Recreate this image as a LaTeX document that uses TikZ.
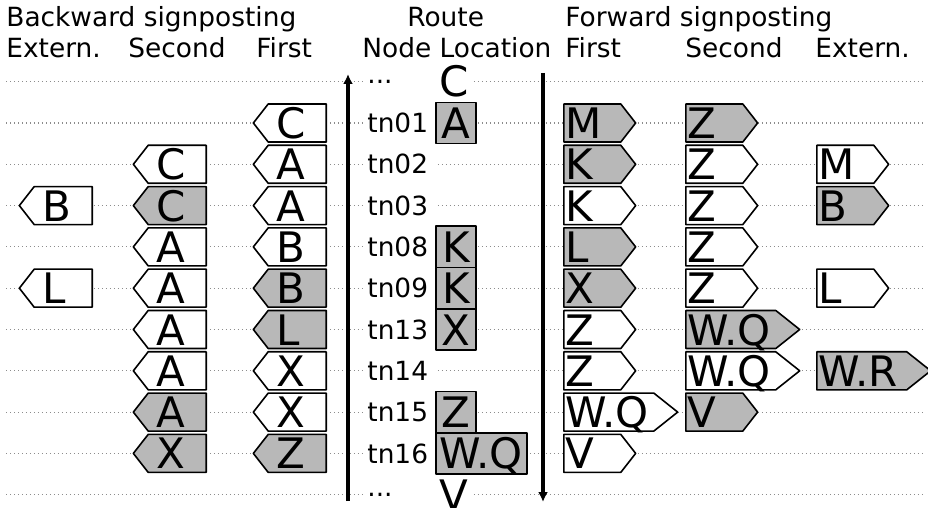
\documentclass[tikz,border=0pt]{standalone}
\usepackage{fontspec}
\setmainfont{DejaVu Sans}
\usetikzlibrary{shapes.symbols,arrows.meta}
\definecolor{signgray}{gray}{0.72}
\newcommand{\lblfont}{\fontsize{13.2pt}{16pt}\selectfont}
\newcommand{\signfont}{\fontsize{21pt}{25pt}\selectfont}
\begin{document}
\begin{tikzpicture}[x=0.5pt,y=-0.5pt,>={Latex[length=5pt,width=5pt]},line join=round,
	guide/.style={draw=black!45,line width=0.6pt,dash pattern=on 0.6pt off 1.4pt},
	head/.style={font=\lblfont,anchor=base west,inner sep=0pt},
	rlbl/.style={font=\lblfont,anchor=west,text width=32.5pt,align=left,inner xsep=2pt,inner ysep=1pt,fill=white},
	sign/.style={signal,draw,line width=0.8pt,font=\signfont,align=left,inner ysep=1.75pt,text height=15.5pt,text depth=0pt,signal pointer angle=104},
	fwd/.style={sign,signal to=east,anchor=west,text width=26.5pt,inner xsep=1pt},
	bwd/.style={sign,signal to=west,anchor=east,text width=21pt,inner xsep=4pt},
	gfill/.style={fill=signgray},
	wfill/.style={fill=white},
	gwide/.style={gfill,text width=43pt,signal pointer angle=77},
	wwide/.style={wfill,text width=43pt,signal pointer angle=77},
	locbox/.style={draw,line width=0.8pt,fill=signgray,font=\signfont,anchor=west,minimum width=20pt,minimum height=20.65pt,inner xsep=2pt,inner ysep=0pt,text height=15.5pt,text depth=0pt},
	locend/.style={font=\signfont,fill=white,inner sep=2pt}]
	\useasboundingbox (0,0) rectangle (928,508);
	\foreach \i in {0,...,10}
		\draw[guide] (6,{81.7+41.3*\i}) -- (924,{81.7+41.3*\i});
	\node[head] (hbw) at (6,27) {Backward signposting};
	\node[head] (hrt) at (407,27) {Route};
	\node[head] (hfw) at (565,27) {Forward signposting};
	\node[head] (hbx) at (6,58) {Extern.};
	\node[head] (hbs) at (128,58) {Second};
	\node[head] (hbf) at (256,58) {First};
	\node[head] (hnl) at (362,58) {Node Location};
	\node[head] (hff) at (565,58) {First};
	\node[head] (hfs) at (685,58) {Second};
	\node[head] (hfx) at (815,58) {Extern.};
	\node[rlbl] (tn0) at (363,81.7) {...};
	\node[rlbl] (tn10) at (363,494.7) {...};
	\foreach \r/\t in {1/tn01,2/tn02,3/tn03,4/tn08,5/tn09,6/tn13,7/tn14,8/tn15,9/tn16}
		\node[rlbl] (tn\r) at (363,{81.7+41.3*\r}) {\t};
	\node[locend] (loc0) at (454,81.7) {C};
	\node[locend] (loc10) at (454,494.7) {V};
	\foreach \r/\t in {1/A,4/K,5/K,6/X,8/Z,9/W.Q}
		\node[locbox] (loc\r) at (435,{81.7+41.3*\r}) {\t};
	\foreach \r/\t/\s in {3/B/wfill,5/L/wfill}
		\node[bwd,\s] (bx\r) at (93,{81.7+41.3*\r}) {\t};
	\foreach \r/\t/\s in {2/C/wfill,3/C/gfill,4/A/wfill,5/A/wfill,6/A/wfill,7/A/wfill,8/A/gfill,9/X/gfill}
		\node[bwd,\s] (bs\r) at (207,{81.7+41.3*\r}) {\t};
	\foreach \r/\t/\s in {1/C/wfill,2/A/wfill,3/A/wfill,4/B/wfill,5/B/gfill,6/L/gfill,7/X/wfill,8/X/wfill,9/Z/gfill}
		\node[bwd,\s] (bf\r) at (327,{81.7+41.3*\r}) {\t};
	\foreach \r/\t/\s in {1/M/gfill,2/K/gfill,3/K/wfill,4/L/gfill,5/X/gfill,6/Z/wfill,7/Z/wfill,8/W.Q/wwide,9/V/wfill}
		\node[fwd,\s] (ff\r) at (563,{81.7+41.3*\r}) {\t};
	\foreach \r/\t/\s in {1/Z/gfill,2/Z/wfill,3/Z/wfill,4/Z/wfill,5/Z/wfill,6/W.Q/gwide,7/W.Q/wwide,8/V/gfill}
		\node[fwd,\s] (fs\r) at (685,{81.7+41.3*\r}) {\t};
	\foreach \r/\t/\s in {2/M/wfill,3/B/gfill,5/L/wfill,7/W.R/gwide}
		\node[fwd,\s] (fx\r) at (816,{81.7+41.3*\r}) {\t};
	\coordinate (upfoot) at (348,501);
	\coordinate (uphead) at (348,74);
	\coordinate (dntop) at (543,73);
	\coordinate (dnhead) at (543,502);
	\draw[->,line width=1.6pt] (upfoot) -- (uphead);
	\draw[->,line width=1.6pt] (dntop) -- (dnhead);
\end{tikzpicture}
\end{document}
